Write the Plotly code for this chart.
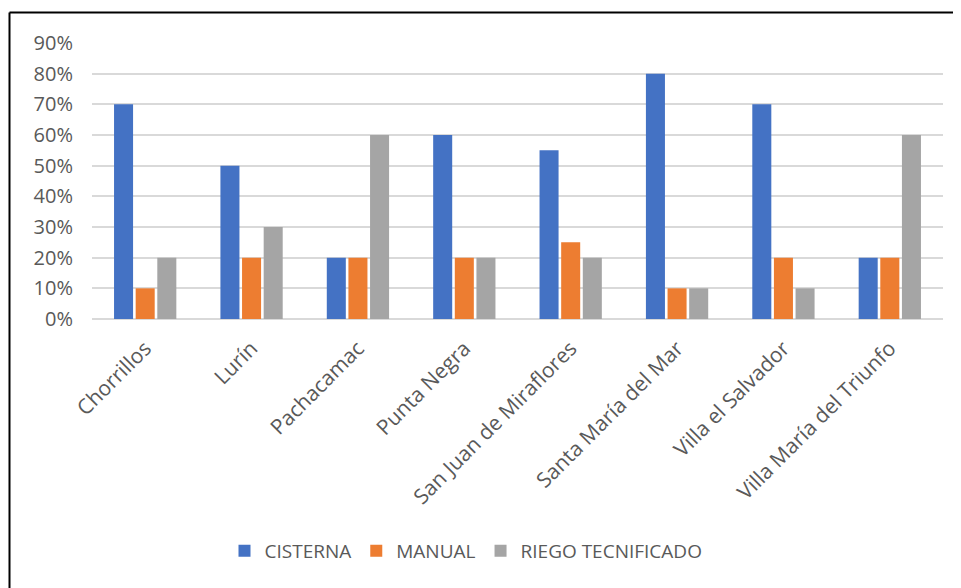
import plotly.graph_objects as go

categories = ["Chorrillos", "Lurín", "Pachacamac", "Punta Negra", "San Juan de Miraflores",
              "Santa María del Mar", "Villa el Salvador", "Villa María del Triunfo"]
cisterna = [0.70, 0.50, 0.20, 0.60, 0.55, 0.80, 0.70, 0.20]
manual = [0.10, 0.20, 0.20, 0.20, 0.25, 0.10, 0.20, 0.20]
riego = [0.20, 0.30, 0.60, 0.20, 0.20, 0.10, 0.10, 0.60]
tick_vals = [0, 0.1, 0.2, 0.3, 0.4, 0.5, 0.6, 0.7, 0.8, 0.9]
tick_text = ["0%", "10%", "20%", "30%", "40%", "50%", "60%", "70%", "80%", "90%"]

FONT = "Open Sans"
GRAY_TXT = "#595959"

fig = go.Figure()
for name, vals, col in [("CISTERNA", cisterna, "#4472C4"),
                        ("MANUAL", manual, "#ED7D31"),
                        ("RIEGO TECNIFICADO", riego, "#A5A5A5")]:
    fig.add_trace(go.Bar(x=categories, y=vals, name=name, marker_color=col,
                         marker_line_width=0))

# page body has an 8px margin, so layout coords are offset by 8
OFF = 8
W, H = 961 - OFF, 588 - OFF
L, R, T, B = 92 - OFF, 18, 43 - OFF, 269
pw = W - L - R
ph = H - T - B

def px2x(px):
    return (px - OFF - L) / pw

def py2y(py):
    return (H - B - (py - OFF)) / ph

fig.update_layout(
    width=W, height=H,
    margin=dict(l=L, r=R, t=T, b=B, autoexpand=False),
    paper_bgcolor="white", plot_bgcolor="white",
    barmode="group", bargap=0.39, bargroupgap=0.12,
    font=dict(family=FONT, color=GRAY_TXT, size=19),
    showlegend=True,
    legend=dict(orientation="h", x=px2x(466), xanchor="center",
                y=py2y(551), yanchor="middle",
                font=dict(family=FONT, size=19, color=GRAY_TXT),
                itemwidth=30, traceorder="normal"),
    xaxis=dict(tickangle=-45, showgrid=False, showline=False, ticks="",
               ticklabelstandoff=12,
               tickfont=dict(family=FONT, size=21, color=GRAY_TXT)),
    yaxis=dict(range=[0, 0.9], tickvals=tick_vals, ticktext=tick_text,
               showgrid=True, gridcolor="#D9D9D9", gridwidth=1.5,
               zeroline=True, zerolinecolor="#D9D9D9", zerolinewidth=1.5,
               showline=False, ticks="", ticklabelstandoff=18,
               tickfont=dict(family=FONT, size=20, color=GRAY_TXT)),
    shapes=[
        dict(type="line", xref="paper", yref="paper",
             x0=px2x(9.5), x1=px2x(9.5), y0=py2y(600), y1=py2y(12.5),
             line=dict(color="black", width=2)),
        dict(type="line", xref="paper", yref="paper",
             x0=px2x(9.5), x1=px2x(970), y0=py2y(12.5), y1=py2y(12.5),
             line=dict(color="black", width=2)),
    ],
)

fig.write_html("out.html")
